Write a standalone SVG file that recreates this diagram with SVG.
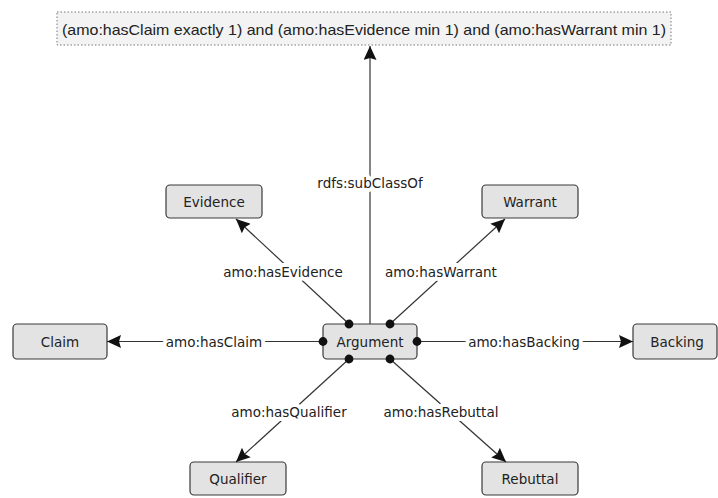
<svg xmlns="http://www.w3.org/2000/svg" width="718" height="498" viewBox="0 0 718 498">
<style>
.node rect{fill:#e3e3e3;stroke:#3a3a3a;stroke-width:1.2}
.node text{font-family:"DejaVu Sans",Verdana,sans-serif;font-size:13.5px;fill:#222;text-anchor:middle;dominant-baseline:central}
.edge line{stroke:#333;stroke-width:1.2;fill:none}
.lbl{font-family:"DejaVu Sans",Verdana,sans-serif;font-size:13.5px;fill:#222;text-anchor:middle;dominant-baseline:central;stroke:#fff;stroke-width:8;stroke-linejoin:round;paint-order:stroke}
</style>
<defs>
<marker id="arr" markerUnits="userSpaceOnUse" markerWidth="15" markerHeight="13" refX="14" refY="6.5" orient="auto">
<path d="M0,0 L14,6.5 L0,13 L2,6.5 z" fill="#111"/>
</marker>
<marker id="dot" markerUnits="userSpaceOnUse" markerWidth="10" markerHeight="10" refX="5" refY="5" orient="auto">
<circle cx="5" cy="5" r="4.4" fill="#111"/>
</marker>
</defs>
<rect width="718" height="498" fill="#fff"/>
<g id="restriction">
<rect x="57" y="12" width="614" height="33" fill="#f3f3f3" stroke="#777" stroke-width="1" stroke-dasharray="1.5,2"/>
<text x="364" y="29" font-family="'Liberation Sans',Arial,sans-serif" font-size="15" fill="#222" text-anchor="middle" dominant-baseline="central" textLength="604" lengthAdjust="spacingAndGlyphs">(amo:hasClaim exactly 1) and (amo:hasEvidence min 1) and (amo:hasWarrant min 1)</text>
</g>
<g id="argument" class="node"><rect x="323" y="324" width="94" height="35" rx="4"/><text x="370" y="342">Argument</text></g>
<g id="evidence" class="node"><rect x="166" y="185" width="96" height="33" rx="4"/><text x="214" y="202">Evidence</text></g>
<g id="warrant" class="node"><rect x="482" y="185" width="96" height="33" rx="4"/><text x="530" y="202">Warrant</text></g>
<g id="claim" class="node"><rect x="13" y="324" width="94" height="35" rx="4"/><text x="60" y="342">Claim</text></g>
<g id="backing" class="node"><rect x="633" y="324" width="84" height="35" rx="4"/><text x="677" y="342">Backing</text></g>
<g id="qualifier" class="node"><rect x="190" y="462" width="96" height="33" rx="4"/><text x="238" y="479">Qualifier</text></g>
<g id="rebuttal" class="node"><rect x="482" y="462" width="96" height="33" rx="4"/><text x="530" y="479">Rebuttal</text></g>
<g id="edges" class="edge">
<line x1="370" y1="324" x2="370" y2="46" marker-end="url(#arr)"/>
<line x1="349" y1="324" x2="236" y2="219" marker-start="url(#dot)" marker-end="url(#arr)"/>
<line x1="390" y1="324" x2="505" y2="219" marker-start="url(#dot)" marker-end="url(#arr)"/>
<line x1="323" y1="341.5" x2="107" y2="341.5" marker-start="url(#dot)" marker-end="url(#arr)"/>
<line x1="417" y1="341.5" x2="633" y2="341.5" marker-start="url(#dot)" marker-end="url(#arr)"/>
<line x1="349" y1="359" x2="236" y2="462" marker-start="url(#dot)" marker-end="url(#arr)"/>
<line x1="390" y1="359" x2="506" y2="462" marker-start="url(#dot)" marker-end="url(#arr)"/>
<text class="lbl" x="370" y="183">rdfs:subClassOf</text>
<text class="lbl" x="283" y="272">amo:hasEvidence</text>
<text class="lbl" x="441" y="272">amo:hasWarrant</text>
<text class="lbl" x="214" y="342">amo:hasClaim</text>
<text class="lbl" x="524" y="342">amo:hasBacking</text>
<text class="lbl" x="289" y="412">amo:hasQualifier</text>
<text class="lbl" x="441" y="412">amo:hasRebuttal</text>
</g>
</svg>
